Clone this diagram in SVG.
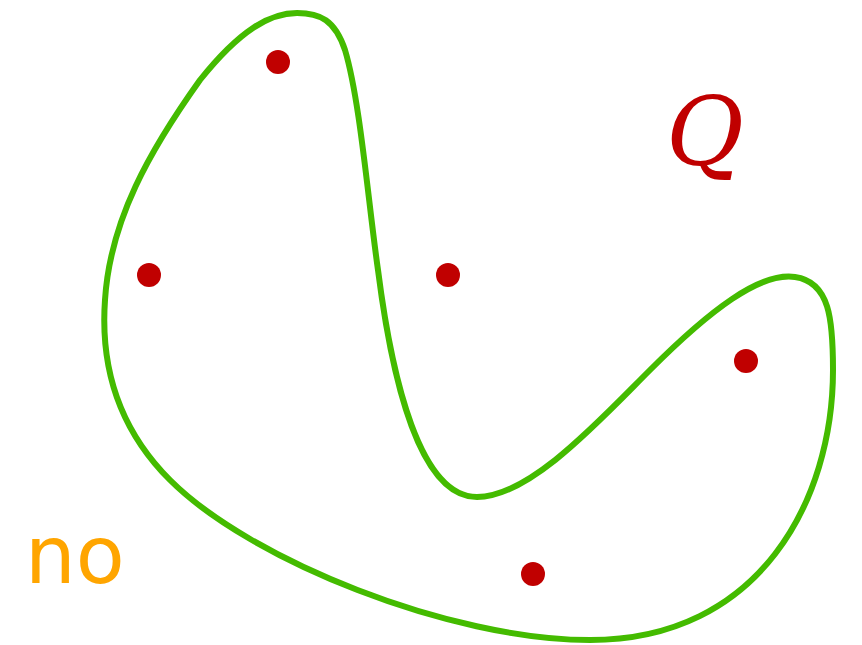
<svg xmlns="http://www.w3.org/2000/svg" width="862" height="645" viewBox="0 0 862 645">
<style>
.dot{fill:#c00000}
.curve{fill:none;stroke:#44bb00;stroke-width:6}
</style>
<rect width="862" height="645" fill="#ffffff"/>
<g id="shape">
<path class="curve" d="M297,13 C320,13 335,20 345,50 C360,100 368,200 378,270 C392,380 420,497 477,497 C530,497 600,420 650,370 C710,310 760,272 795,277 C830,282 833,320 833,370 C833,500 760,640 590,640 C450,640 250,560 170,480 C120,430 100,370 105,300 C110,220 150,150 200,80 C240,30 270,13 297,13 Z"/>
</g>
<g id="points">
<circle class="dot" cx="278" cy="62" r="12"/>
<circle class="dot" cx="149" cy="275" r="12"/>
<circle class="dot" cx="448" cy="275" r="12"/>
<circle class="dot" cx="746" cy="361" r="12"/>
<circle class="dot" cx="533" cy="574" r="12"/>
</g>
<text x="666" y="165" font-family="'DejaVu Serif', serif" font-style="italic" font-size="95" fill="#c00000">Q</text>
<text x="25" y="583" font-family="'DejaVu Sans', sans-serif" font-size="80" fill="#ffa500">no</text>
</svg>
